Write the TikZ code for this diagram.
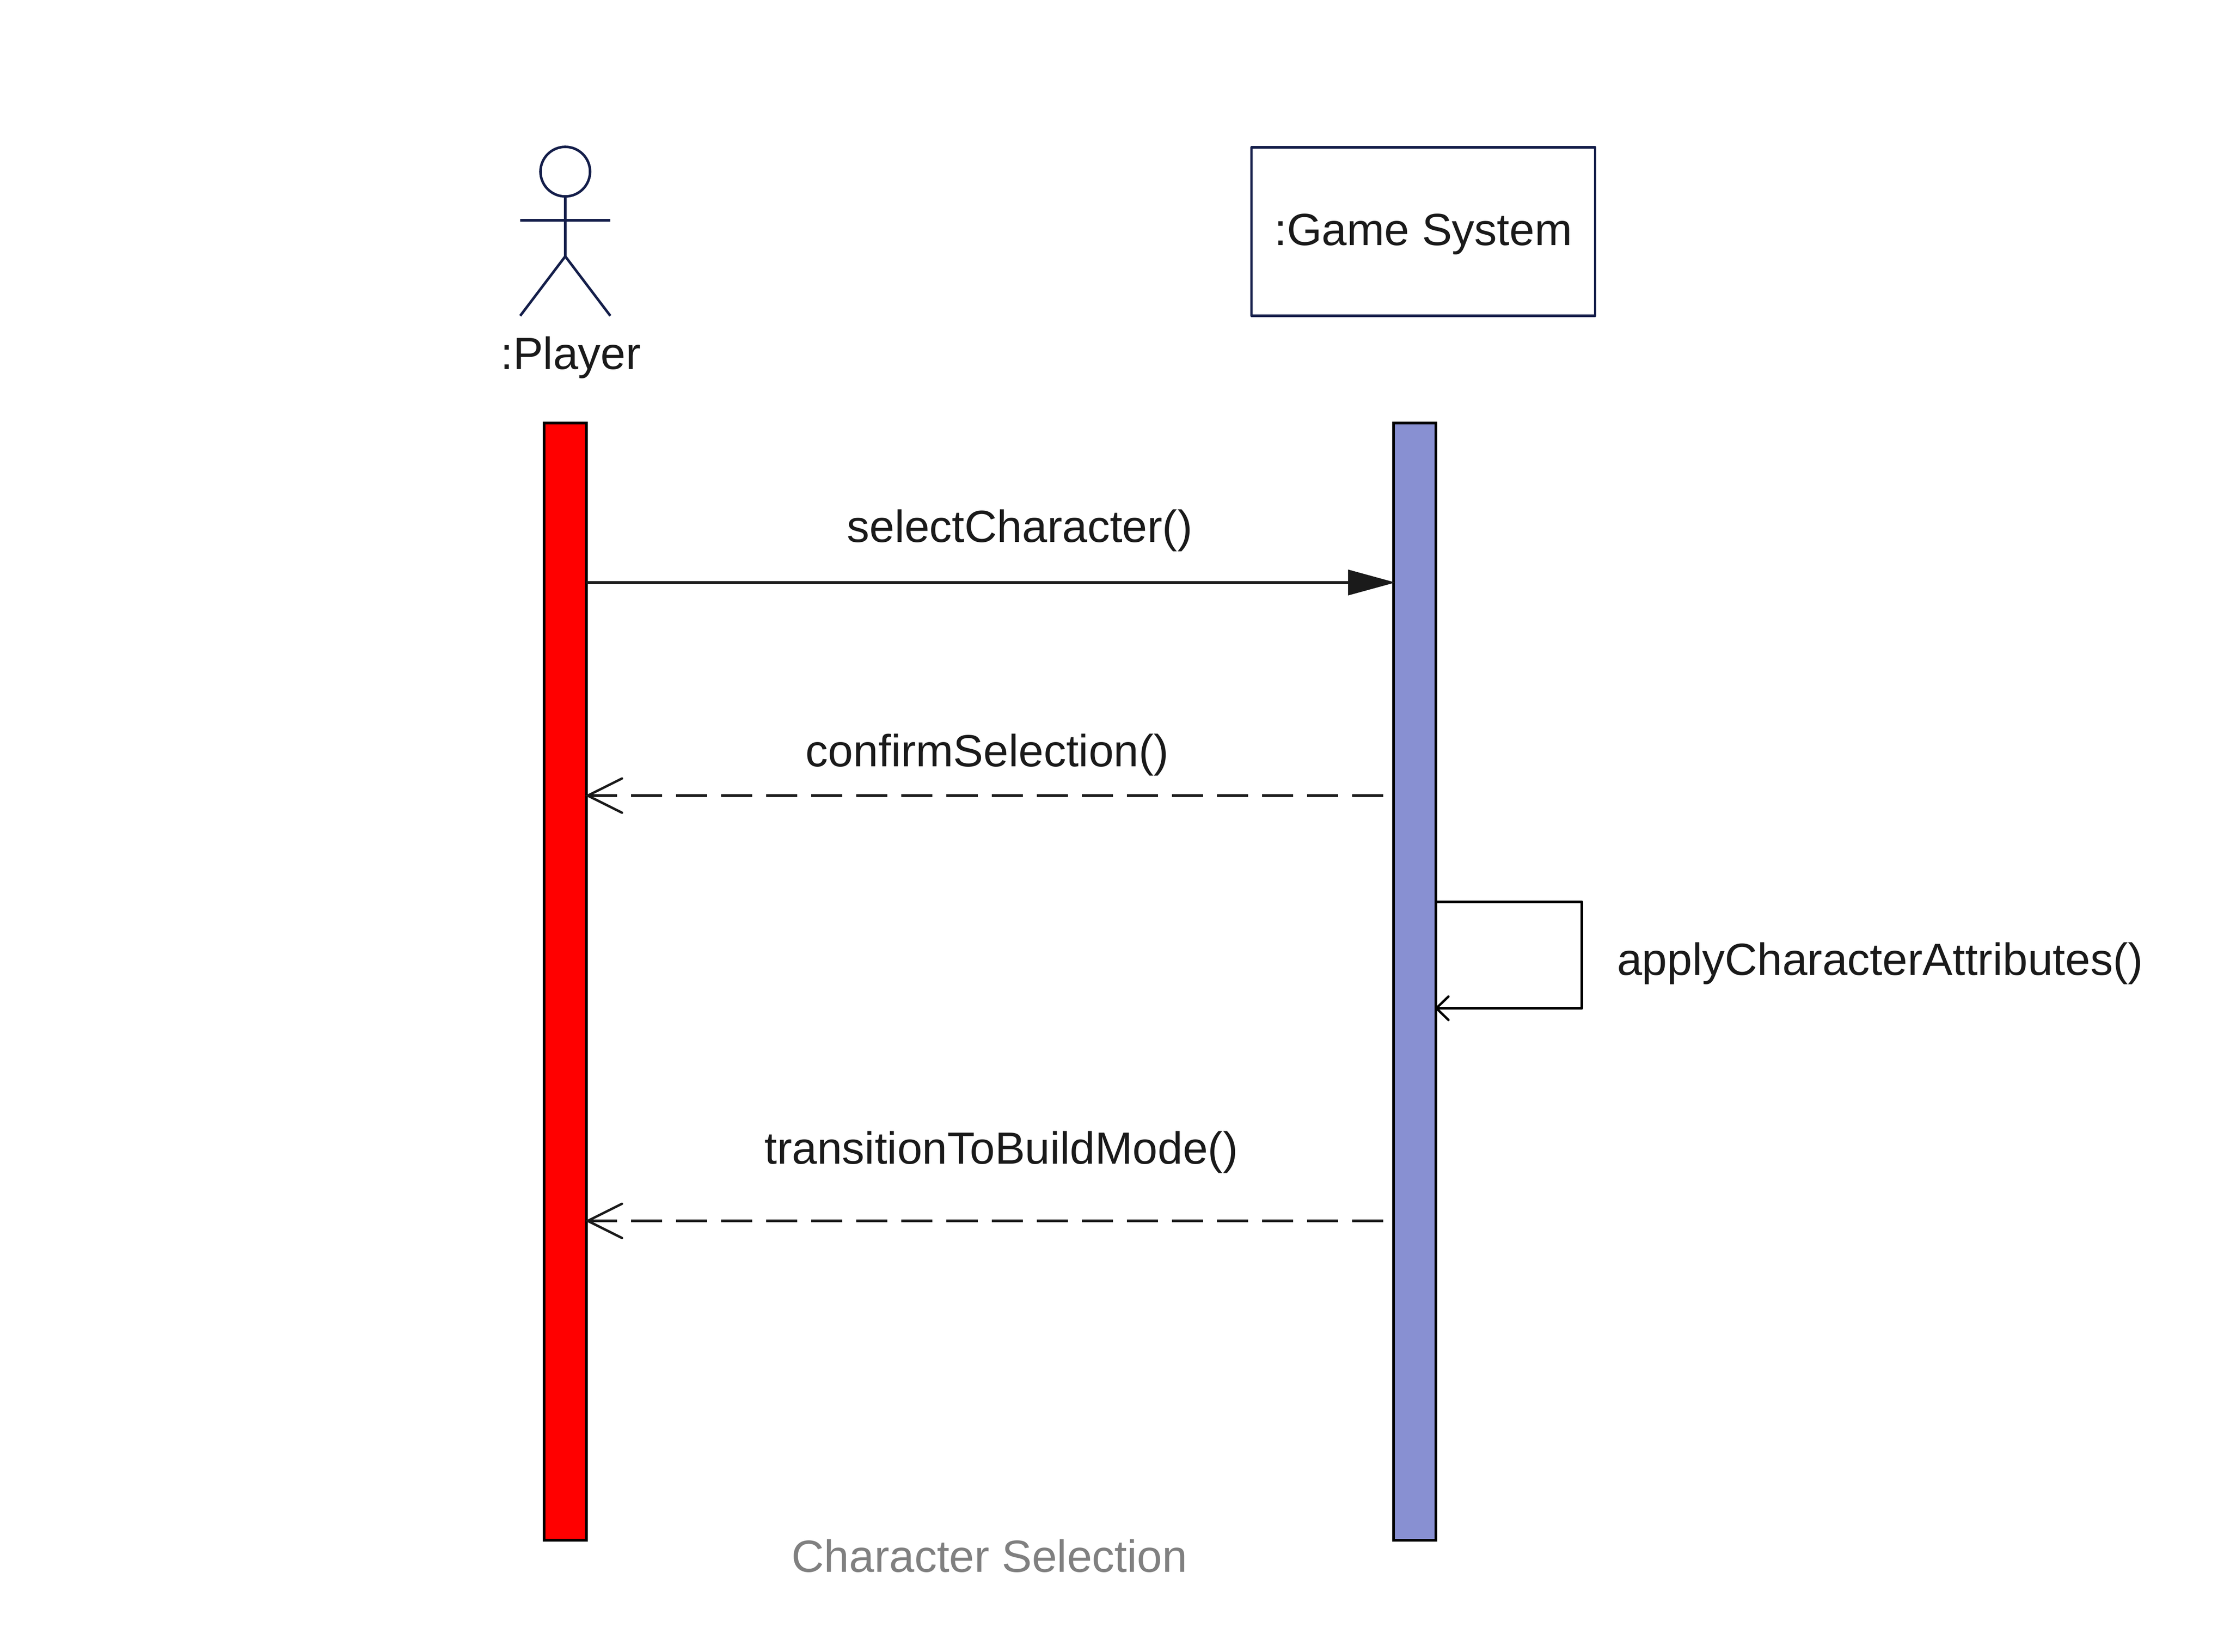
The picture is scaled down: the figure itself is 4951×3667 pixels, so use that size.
\documentclass[tikz,border=0pt]{standalone}
\usepackage{fontspec}
\setmainfont{Liberation Sans}
\usetikzlibrary{arrows.meta}
\usetikzlibrary{calc}
\definecolor{actorblue}{HTML}{141E4A}
\definecolor{barblue}{HTML}{8890D2}
\definecolor{textblack}{HTML}{1A1A1A}
\tikzset{
  lifebar/.style={draw=black,line width=1.7pt,minimum width=94*0.01cm,minimum height=2480*0.01cm,inner sep=0pt,outer sep=0pt,anchor=north},
  msg/.style={font=\fontsize{28.45}{34}\selectfont,text=textblack,inner sep=0pt,anchor=base},
  callline/.style={textblack,line width=1.5pt,shorten >=-0.04cm,-{Triangle[length=1.05cm,width=0.56cm]}},
  returnline/.style={textblack,line width=1.5pt,shorten >=-0.03cm,dash pattern=on 0.69cm off 0.31cm,-{Straight Barb[length=0.76cm,width=0.76cm,line cap=round]}},
  selfline/.style={black,line width=1.5pt,line join=round,shorten >=-0.03cm,-{Straight Barb[length=0.27cm,width=0.52cm,line cap=round]}},
  actorline/.style={actorblue,line width=1.6pt}
}
\begin{document}
\begin{tikzpicture}[x=0.01cm,y=-0.01cm]
  \useasboundingbox (0,0) rectangle (4951,3667);
  % actor
  \coordinate (head) at (1255,381);
  \coordinate (neck) at (1255,436);
  \coordinate (hip) at (1255,569);
  \coordinate (handl) at (1155,489);
  \coordinate (handr) at (1355,489);
  \coordinate (footl) at (1155,701);
  \coordinate (footr) at (1355,701);
  \draw [actorline] (head) circle [radius=0.55cm];
  \draw [actorline] (neck) -- (hip);
  \draw [actorline] (handl) -- (handr);
  \draw [actorline] (footl) -- (hip) -- (footr);
  \node [msg] (player) at (1267,820) {:Player};
  % game system
  \node [draw=actorblue,line width=1.5pt,line join=round,minimum width=763*0.01cm,minimum height=374*0.01cm,inner sep=0pt] (game) at (3160,514) {};
  \node [msg] (gamelabel) at (3160,545) {:Game System};
  % bars
  \node [lifebar,fill=red] (playerbar) at (1255,939) {};
  \node [lifebar,fill=barblue] (gamebar) at (3141,939) {};
  % messages
  \coordinate (sela) at (playerbar.east |- 0,1293);
  \coordinate (selb) at (gamebar.west |- 0,1293);
  \draw [callline] (sela) -- (selb);
  \node [msg] (sel) at (2264,1203) {selectCharacter()};
  \coordinate (cona) at (3071,1766);
  \coordinate (conb) at (playerbar.east |- 0,1766);
  \draw [returnline] (cona) -- (conb);
  \node [msg] (con) at (2192,1701) {confirmSelection()};
  \coordinate (appa) at (gamebar.east |- 0,2002);
  \coordinate (appb) at (gamebar.east |- 0,2238);
  \draw [selfline] (appa) -- (3512,2002) -- (3512,2238) -- (appb);
  \node [msg] (app) at (4174,2164) {applyCharacterAttributes()};
  \coordinate (trana) at (3071,2710);
  \coordinate (tranb) at (playerbar.east |- 0,2710);
  \draw [returnline] (trana) -- (tranb);
  \node [msg] (tran) at (2223,2583) {transitionToBuildMode()};
  % caption
  \node [msg,text=gray] (caption) at (2197,3489) {Character Selection};
\end{tikzpicture}
\end{document}
